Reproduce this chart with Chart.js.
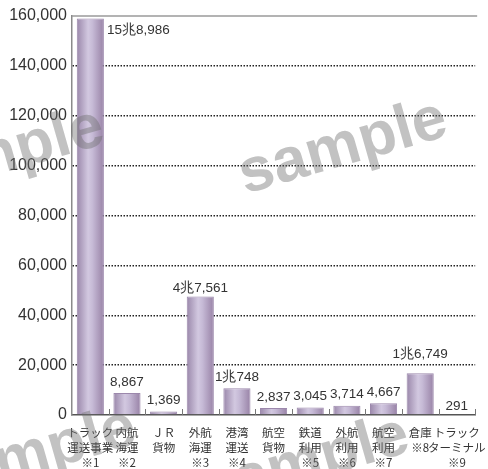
<!DOCTYPE html>
<html><head><meta charset="utf-8">
<script src="https://cdn.jsdelivr.net/npm/chart.js@4/dist/chart.umd.min.js"></script>
<style>html,body{margin:0;padding:0;background:#fff}#wrap{width:488px;height:469px}</style>
</head><body><div id="wrap"><canvas id="c" width="488" height="469"></canvas></div>
<script>
const categories = [
  ["トラック","運送事業","※1"],["内航","海運","※2"],["ＪＲ","貨物"],["外航","海運","※3"],
  ["港湾","運送","※4"],["航空","貨物"],["鉄道","利用","※5"],["外航","利用","※6"],
  ["航空","利用","※7"],["倉庫","※8"],["トラック","ターミナル","※9"]
];
const values = [158986, 8867, 1369, 47561, 10748, 2837, 3045, 3714, 4667, 16749, 291];
const valueLabels = ["15兆8,986","8,867","1,369","4兆7,561","1兆748","2,837","3,045","3,714","4,667","1兆6,749","291"];
const yTicks = [0,20000,40000,60000,80000,100000,120000,140000,160000];

const JP = '"Noto Sans CJK JP", sans-serif';
const NUM = '"Liberation Sans", Arial, sans-serif';
const BAR_PCT = 0.74;

function barGradient(c){
  const chart = c.chart, a = chart.chartArea;
  if(!a) return '#b8a8c8';
  const w = (a.right - a.left)/categories.length;
  const cx = a.left + (c.dataIndex + 0.5)*w;
  const bw = w*BAR_PCT;
  const g = chart.ctx.createLinearGradient(cx-bw/2,0,cx+bw/2,0);
  g.addColorStop(0,'#9a87aa');
  g.addColorStop(0.42,'#d2c8e0');
  g.addColorStop(0.58,'#c6bad6');
  g.addColorStop(1,'#9882a6');
  return g;
}

const decoPlugin = {
  id:'deco',
  beforeDatasetsDraw(chart){
    const {ctx, chartArea:a} = chart;
    ctx.save();
    ctx.strokeStyle='#9a9a9a'; ctx.lineWidth=1.5;
    ctx.beginPath(); ctx.moveTo(a.left,a.top); ctx.lineTo(a.right+2,a.top); ctx.stroke();
    const w = (a.right-a.left)/categories.length;
    ctx.strokeStyle='#777'; ctx.lineWidth=1;
    for(let i=1;i<=categories.length;i++){
      const x = Math.round(a.left + i*w)+0.5;
      ctx.beginPath(); ctx.moveTo(x,a.bottom); ctx.lineTo(x,a.bottom-6); ctx.stroke();
    }
    ctx.restore();
  },
  afterDatasetsDraw(chart){
    const {ctx} = chart;
    const meta = chart.getDatasetMeta(0);
    ctx.save();
    ctx.fillStyle='#333';
    ctx.font = '13.5px '+NUM;
    ctx.textBaseline='middle';
    meta.data.forEach((el,i)=>{
      const txt = valueLabels[i];
      if(i===0){
        ctx.textAlign='left';
        ctx.fillText(txt, el.x + el.width/2 + 3, el.y + 12);
      } else {
        ctx.textAlign='center';
        let off = 11;
        if(i===3) off = 8;
        if(i===9) off = 19;
        if(i===10) off = 8;
        ctx.fillText(txt, el.x, el.y - off);
      }
    });
    ctx.restore();
  },
  afterDraw(chart){
    const ctx = chart.ctx;
    ctx.save();
    ctx.fillStyle='rgba(110,110,110,0.42)';
    ctx.font='bold 62px '+NUM;
    ctx.textAlign='center'; ctx.textBaseline='middle';
    [[0,156],[343,148],[32,456],[305,464]].forEach(p=>{
      ctx.save(); ctx.translate(p[0],p[1]); ctx.rotate(-16*Math.PI/180);
      ctx.fillText('sample',0,0); ctx.restore();
    });
    ctx.restore();
  }
};

new Chart(document.getElementById('c'),{
  type:'bar',
  data:{labels:categories,datasets:[{data:values,backgroundColor:barGradient,borderColor:'#9c88ac',borderWidth:1,barPercentage:BAR_PCT,categoryPercentage:1.0}]},
  options:{
    responsive:false,animation:false,
    layout:{padding:{top:16,right:9,left:0,bottom:0}},
    plugins:{legend:{display:false},tooltip:{enabled:false}},
    scales:{
      x:{
        grid:{display:false},
        border:{color:'#555',width:1.5},
        ticks:{color:'#333',font:{family:JP,size:11.5,lineHeight:1.3},padding:2,maxRotation:0,autoSkip:false},
        afterFit(s){s.height=54;}
      },
      y:{
        min:0,max:160000,
        afterBuildTicks(s){s.ticks = yTicks.map(v=>({value:v}));},
        grid:{color:(c)=> (c.tick && (c.tick.value===0||c.tick.value===160000))?'rgba(0,0,0,0)':'#222',lineWidth:1.5,drawTicks:false},
        border:{color:'#8a8a8a',width:1.5,dash:[1.5,1.5]},
        ticks:{color:'#333',font:{family:NUM,size:16},padding:5,callback:(v)=>v.toLocaleString('en-US')},
        afterFit(s){s.width=72;}
      }
    }
  },
  plugins:[decoPlugin]
});
</script></body></html>
